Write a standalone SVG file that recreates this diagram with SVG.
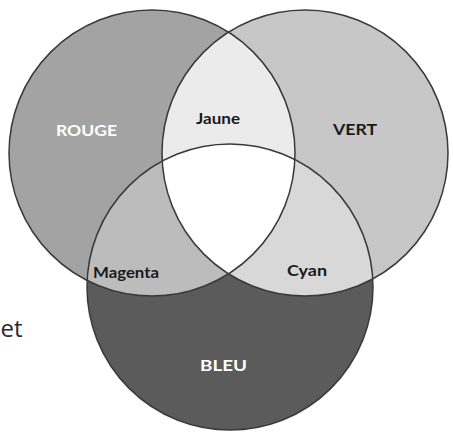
<svg xmlns="http://www.w3.org/2000/svg" width="453" height="432" viewBox="0 0 453 432">
  <style>
    .lbl { font-family: Lato, "Open Sans", "Liberation Sans", sans-serif; font-weight: bold; font-size: 15px; text-anchor: middle; }
    .dark { fill: #1a1a1a; }
    .light { fill: #ffffff; }
    .edge { fill: none; stroke: #3a3a3a; stroke-width: 1.5; }
  </style>
  <defs>
    <circle id="cR" cx="152" cy="153" r="143"/>
    <circle id="cG" cx="305" cy="153" r="143"/>
    <circle id="cB" cx="230" cy="287" r="143"/>
    <clipPath id="clipR"><use href="#cR"/></clipPath>
    <clipPath id="clipG"><use href="#cG"/></clipPath>
  </defs>
  <rect width="453" height="432" fill="#ffffff"/>
  <text x="22.5" y="337" font-family="'Open Sans', 'Noto Sans', sans-serif" font-size="24" fill="#2a2a2a" text-anchor="end">et</text>

  <g id="node-rouge">
    <use href="#cR" fill="#a3a3a3"/>
  </g>
  <g id="node-vert">
    <use href="#cG" fill="#c7c7c7"/>
  </g>
  <g id="node-bleu">
    <use href="#cB" fill="#5b5b5b"/>
  </g>
  <g id="node-jaune" clip-path="url(#clipR)">
    <use href="#cG" fill="#ebebeb"/>
  </g>
  <g id="node-magenta" clip-path="url(#clipR)">
    <use href="#cB" fill="#bcbcbc"/>
  </g>
  <g id="node-cyan" clip-path="url(#clipG)">
    <use href="#cB" fill="#d8d8d8"/>
  </g>
  <g id="node-blanc" clip-path="url(#clipR)">
    <g clip-path="url(#clipG)">
      <use href="#cB" fill="#ffffff"/>
    </g>
  </g>
  <g id="outlines">
    <use href="#cR" class="edge"/>
    <use href="#cG" class="edge"/>
    <use href="#cB" class="edge"/>
  </g>

  <g id="labels">
    <text class="lbl light" x="86.5" y="135.5" textLength="61" lengthAdjust="spacingAndGlyphs">ROUGE</text>
    <text class="lbl dark" x="218" y="124" textLength="44" lengthAdjust="spacingAndGlyphs">Jaune</text>
    <text class="lbl dark" x="355" y="135" textLength="44" lengthAdjust="spacingAndGlyphs">VERT</text>
    <text class="lbl dark" x="126" y="278" textLength="66" lengthAdjust="spacingAndGlyphs">Magenta</text>
    <text class="lbl dark" x="307" y="276" textLength="40" lengthAdjust="spacingAndGlyphs">Cyan</text>
    <text class="lbl light" x="223.5" y="370.5" font-size="14" textLength="47" lengthAdjust="spacingAndGlyphs">BLEU</text>
  </g>
</svg>
